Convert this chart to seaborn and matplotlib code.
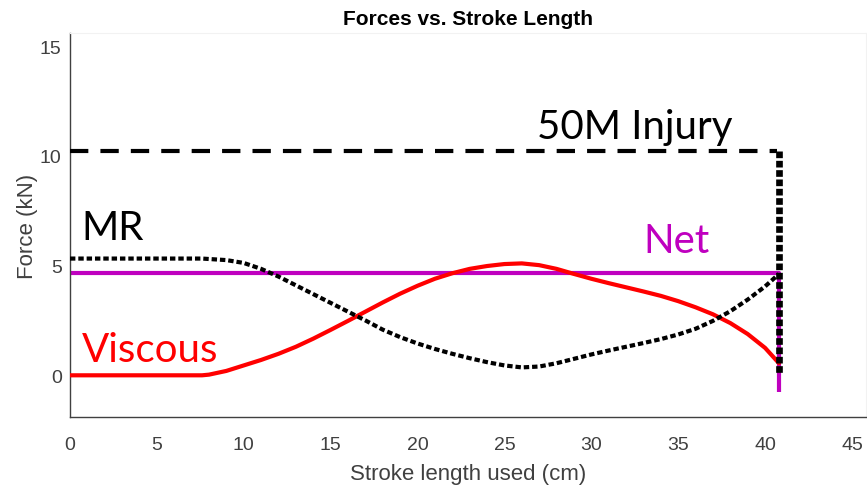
import matplotlib
matplotlib.use("Agg")
import matplotlib.pyplot as plt
import seaborn as sns

# stroke length positions (cm) and forces (kN)
mr_x = [0, 2, 4, 6, 7.6, 9, 10, 11, 12, 13, 14, 15, 16, 17, 18, 19, 20, 21, 22, 23,
        24, 25, 26, 27, 28, 29, 30, 31, 32, 33, 34, 35, 36, 37, 38, 39, 40, 40.8]
mr_force = [5.32, 5.32, 5.32, 5.32, 5.32, 5.25, 5.12, 4.85, 4.5, 4.1, 3.7, 3.3, 2.9, 2.5,
            2.08, 1.74, 1.45, 1.2, 0.98, 0.78, 0.6, 0.45, 0.36, 0.4, 0.55, 0.75, 0.95,
            1.13, 1.3, 1.47, 1.65, 1.86, 2.12, 2.48, 2.92, 3.45, 4.05, 4.62]

visc_x = [0, 2, 4, 6, 7.6, 8, 9, 10, 11, 12, 13, 14, 15, 16, 17, 18, 19, 20, 21, 22,
          23, 24, 25, 26, 27, 28, 29, 30, 31, 32, 33, 34, 35, 36, 37, 38, 39, 40, 40.4, 40.8]
visc_force = [0, 0, 0, 0, 0, 0.03, 0.2, 0.45, 0.7, 0.98, 1.3, 1.67, 2.07, 2.48, 2.9,
              3.32, 3.72, 4.08, 4.4, 4.65, 4.85, 4.98, 5.07, 5.1, 5.02, 4.85, 4.62, 4.4,
              4.2, 4.01, 3.82, 3.62, 3.38, 3.1, 2.78, 2.38, 1.88, 1.25, 0.9, 0.55]

net_x = [0, 40.8, 40.8]
net_force = [4.65, 4.65, -0.75]

injury_x = [0, 40.7]
injury_force = [10.2, 10.2]
injury_drop_x = [40.8, 40.8]
injury_drop_force = [10.2, 0.1]

x_ticks = [0, 5, 10, 15, 20, 25, 30, 35, 40, 45]
y_ticks = [0, 5, 10, 15]

sns.set_style("white")
plt.rcParams['font.family'] = ['Liberation Sans', 'DejaVu Sans']

fig = plt.figure(figsize=(8.67, 4.89), dpi=100)
ax = fig.add_axes([0.0807, 0.1452, 0.918, 0.7853])

magenta = '#bf00bf'
ax.plot(net_x, net_force, color=magenta, lw=3, solid_capstyle='butt', zorder=2)
sns.lineplot(x=injury_x, y=injury_force, ax=ax, color='black', lw=3,
             zorder=3).lines[-1].set_dashes((4.4, 2.9))
sns.lineplot(x=visc_x, y=visc_force, ax=ax, color='red', lw=3, zorder=4)
mr_line = sns.lineplot(x=mr_x, y=mr_force, ax=ax, color='black', lw=3, zorder=5).lines[-1]
mr_line.set_dashes((1.3, 0.7))
drop = ax.plot(injury_drop_x, injury_drop_force, color='black', lw=4.8, zorder=6)[0]
drop.set_dashes((1, 0.4))

label_font = ['Lato', 'DejaVu Sans']
ax.text(26.9, 10.8, '50M Injury', fontsize=29, color='black', family=label_font)
ax.text(0.65, 6.2, 'MR', fontsize=29, color='black', family=label_font)
ax.text(33.0, 5.6, 'Net', fontsize=29, color=magenta, family=label_font)
ax.text(0.7, 0.65, 'Viscous', fontsize=29, color='red', family=label_font)

ax.set_xlim(0, 45.8)
ax.set_ylim(-1.9, 15.6)
ax.set_xticks(x_ticks)
ax.set_yticks(y_ticks)
ax.tick_params(direction='in', length=6, width=1, colors='#404040', labelsize=14)
ax.tick_params(axis='x', pad=14)
ax.tick_params(axis='y', pad=6)
for side in ['left', 'bottom']:
    ax.spines[side].set_color('#404040')
    ax.spines[side].set_linewidth(1)
for side in ['top', 'right']:
    ax.spines[side].set_color('#f2f2f2')

ax.set_title('Forces vs. Stroke Length', fontsize=15, fontweight='bold', color='black', pad=6.5)
ax.set_xlabel('Stroke length used (cm)', fontsize=16, color='#404040', labelpad=7)
ax.set_ylabel('Force (kN)', fontsize=16, color='#404040', labelpad=1)

fig.savefig('out.png', dpi=100)
